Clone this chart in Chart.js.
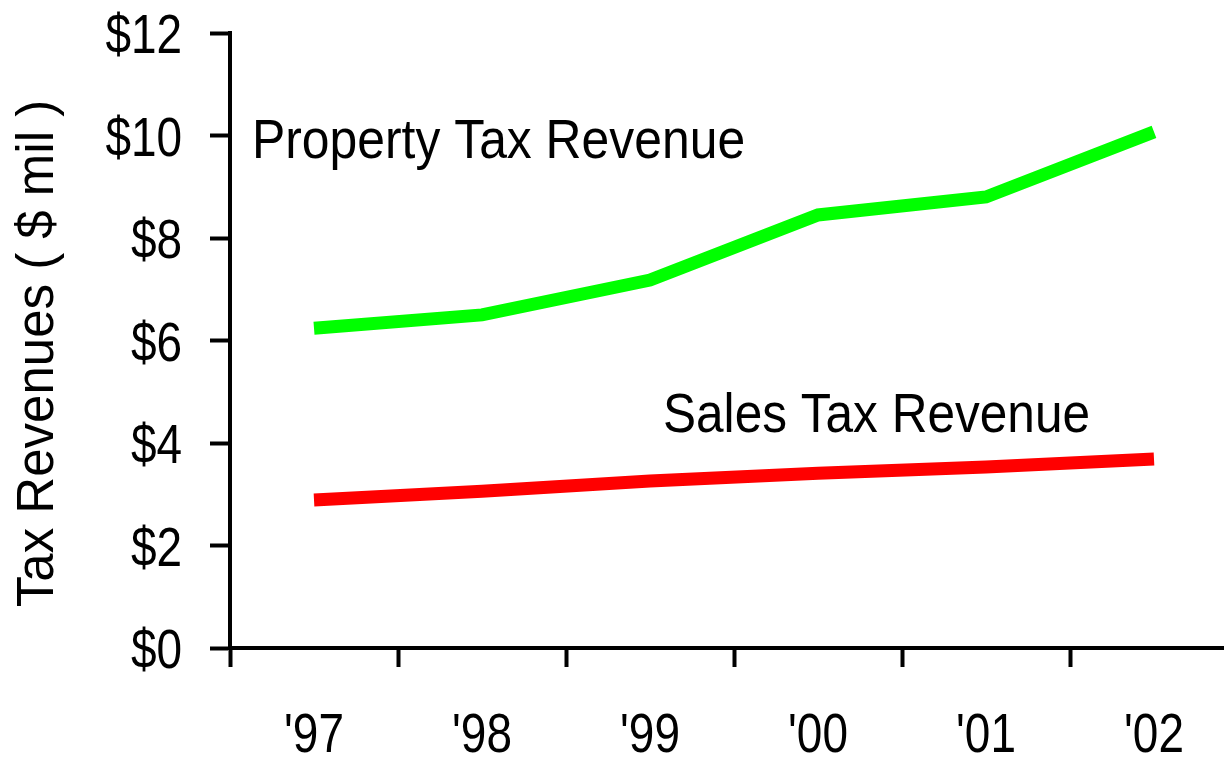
<!DOCTYPE html>
<html>
<head>
<meta charset="utf-8">
<title>Tax Revenues</title>
<script src="https://cdn.jsdelivr.net/npm/chart.js@4.4.1/dist/chart.umd.min.js"></script>
<style>
	html, body { margin: 0; padding: 0; background: #fff; overflow: hidden; }
	.chart-wrap { width: 1224px; height: 758px; overflow: hidden; }
</style>
</head>
<body>
<div class="chart-wrap">
	<canvas id="taxChart" width="1240" height="758"></canvas>
</div>
<script>
// data ($ millions)
const years = ["'97", "'98", "'99", "'00", "'01", "'02"];
const propertyTax = [6.24, 6.50, 7.18, 8.45, 8.80, 10.07];
const salesTax = [2.89, 3.06, 3.26, 3.41, 3.53, 3.69];
const yTicks = [0, 2, 4, 6, 8, 10, 12];

(function(){
	const sans = "'Liberation Sans', Arial, sans-serif";

	// text drawn squeezed sideways to look like the narrow face of the original
	function narrowText(ctx, text, px, py, align, sx){
		ctx.save();
		ctx.translate(px, py);
		ctx.scale(sx, 1);
		ctx.textAlign = align;
		ctx.textBaseline = 'alphabetic';
		ctx.fillText(text, 0, 0);
		ctx.restore();
	}

	const textLayer = {
		id: 'textLayer',
		afterDraw(chart){
			const {ctx, scales} = chart;
			const x = scales.x, y = scales.y;
			ctx.save();
			ctx.fillStyle = '#000';
			ctx.font = '56px ' + sans;

			// y tick labels
			y.ticks.forEach(t => {
				narrowText(ctx, '$' + t.value, x.left - 48, y.getPixelForValue(t.value) + 20, 'right', 0.82);
			});
			// x tick labels
			years.forEach((lab, i) => {
				narrowText(ctx, lab, x.getPixelForValue(i), y.bottom + 104, 'center', 0.82);
			});
			// series names next to the lines
			narrowText(ctx, 'Property Tax Revenue', x.getPixelForValue(0) - 62, y.getPixelForValue(9.56), 'left', 0.89);
			narrowText(ctx, 'Sales Tax Revenue', x.getPixelForValue(2) + 13, y.getPixelForValue(4.21), 'left', 0.885);

			// axis title
			ctx.font = '51px ' + sans;
			ctx.translate(53, (y.top + y.bottom) / 2 + 13);
			ctx.rotate(-Math.PI / 2);
			ctx.textAlign = 'center';
			ctx.textBaseline = 'alphabetic';
			ctx.fillText('Tax Revenues ( $ mil )', 0, 0);
			ctx.restore();
		}
	};

	const canvas = document.getElementById('taxChart');
	new Chart(canvas.getContext('2d'), {
		type: 'line',
		data: {
			labels: years,
			datasets: [
				{ label: 'Property Tax Revenue', data: propertyTax, borderColor: '#00ff00', borderWidth: 13, pointRadius: 0, borderCapStyle: 'butt', borderJoinStyle: 'miter', tension: 0 },
				{ label: 'Sales Tax Revenue', data: salesTax, borderColor: '#ff0000', borderWidth: 13, pointRadius: 0, borderCapStyle: 'butt', borderJoinStyle: 'miter', tension: 0 }
			]
		},
		options: {
			responsive: false,
			animation: false,
			layout: { padding: { top: 33, right: 2, left: 0, bottom: 0 } },
			plugins: { legend: { display: false }, tooltip: { enabled: false } },
			scales: {
				x: {
					offset: true,
					grid: { offset: true, drawOnChartArea: false, drawTicks: true, tickLength: 19, tickWidth: 4, color: '#000' },
					border: { display: true, width: 4, color: '#000' },
					// labels are painted by textLayer; tiny invisible ones keep the layout fixed
					ticks: { color: 'rgba(0,0,0,0)', font: { family: sans, size: 1 }, padding: 0, maxRotation: 0 },
					afterFit(scale){ scale.height = 110; }
				},
				y: {
					min: 0, max: 12,
					afterBuildTicks(scale){ scale.ticks = yTicks.map(v => ({value: v})); },
					grid: { drawOnChartArea: false, drawTicks: true, tickLength: 20, tickWidth: 4, color: '#000' },
					border: { display: true, width: 4, color: '#000' },
					ticks: { color: 'rgba(0,0,0,0)', font: { family: sans, size: 1 }, padding: 0, callback: v => '$' + v },
					afterFit(scale){ scale.width = 230; }
				}
			}
		},
		plugins: [textLayer]
	});
})();
</script>
</body>
</html>
